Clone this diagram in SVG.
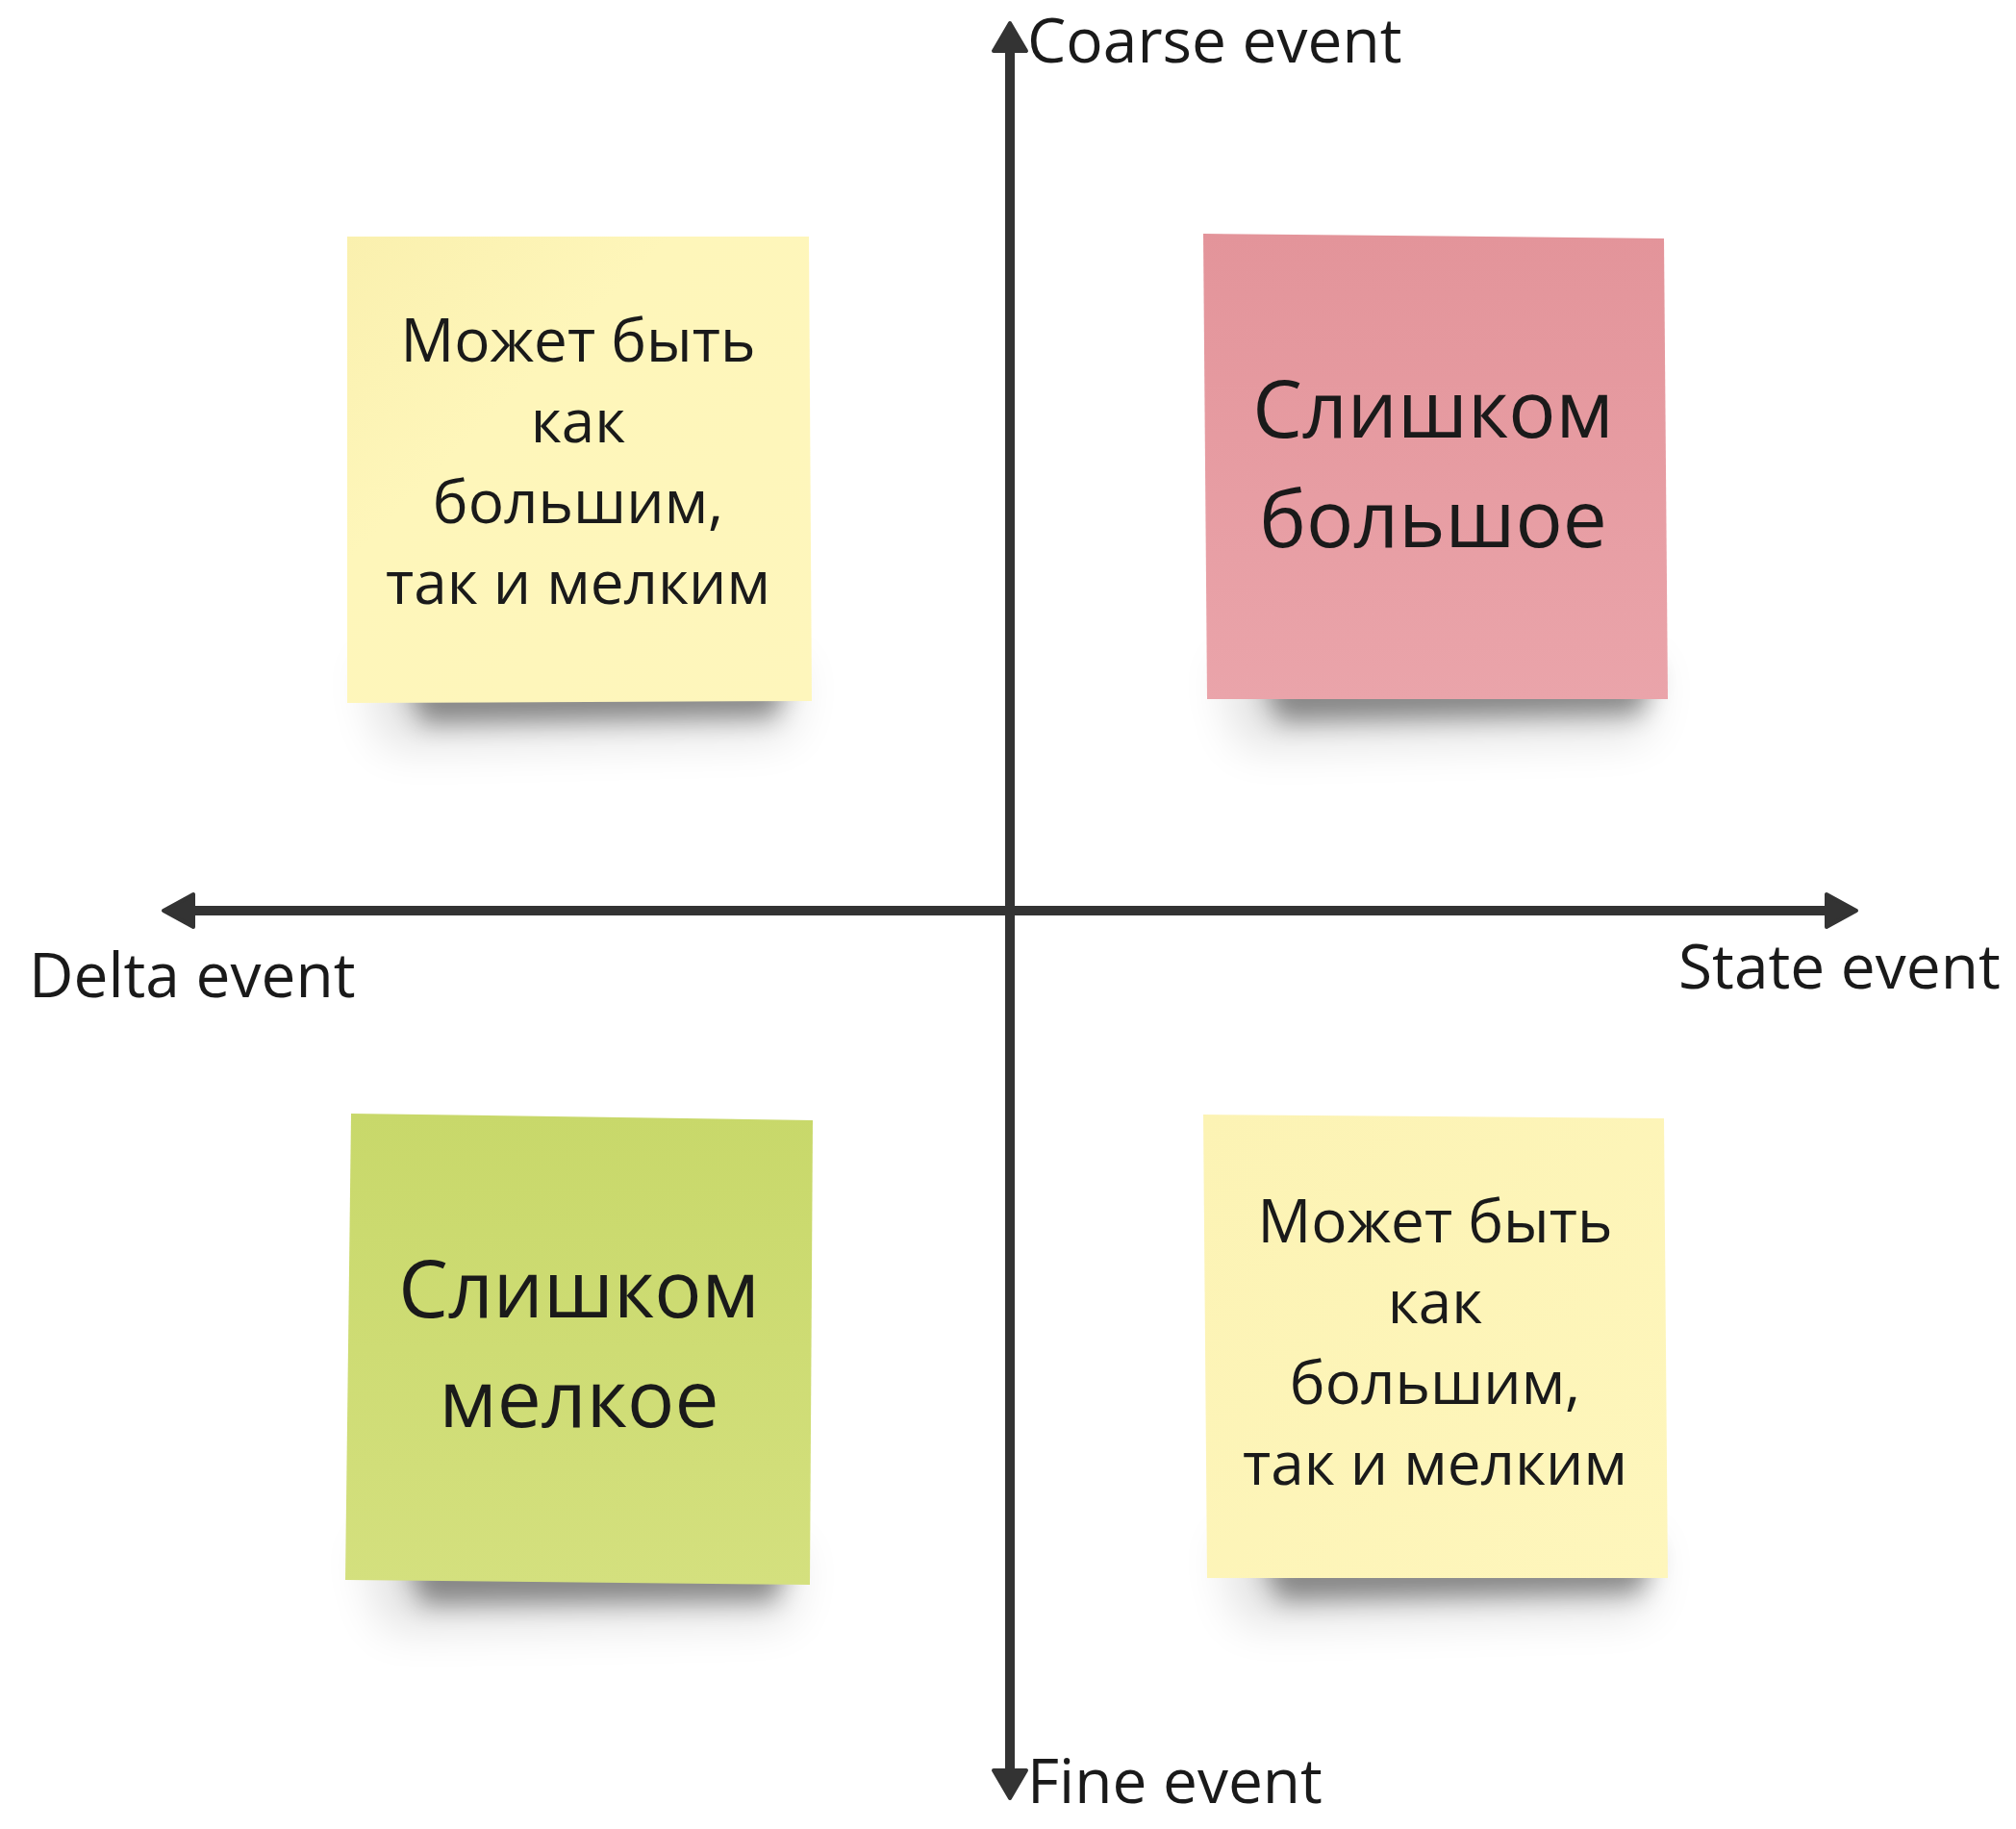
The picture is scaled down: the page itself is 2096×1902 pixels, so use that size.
<svg xmlns="http://www.w3.org/2000/svg" width="2096" height="1902" viewBox="0 0 2096 1902">
  <style>
    .lbl { font-family: "Open Sans", "Noto Sans", "Liberation Sans", sans-serif; font-size: 64px; fill: #1a1a1a; }
    .nt { font-family: "Open Sans", "Noto Sans", "Liberation Sans", sans-serif; font-size: 62px; fill: #1a1a1a; text-anchor: middle; }
    .big { font-family: "Open Sans", "Noto Sans", "Liberation Sans", sans-serif; font-size: 82px; fill: #1a1a1a; text-anchor: middle; }
    .axis { stroke: #333333; stroke-width: 10; fill: none; }
    .head { fill: #333333; stroke: #333333; stroke-width: 4; stroke-linejoin: round; }
    .sh1 { fill: #000000; opacity: 0.4; filter: url(#blurA); }
    .sh2 { fill: #000000; opacity: 0.12; filter: url(#blurB); }
  </style>
  <defs>
    <filter id="blurA" x="-20%" y="-100%" width="140%" height="300%"><feGaussianBlur stdDeviation="13"/></filter>
    <filter id="blurB" x="-20%" y="-100%" width="140%" height="300%"><feGaussianBlur stdDeviation="24"/></filter>
    <linearGradient id="gYellowTL" x1="0" y1="0" x2="1" y2="1">
      <stop offset="0" stop-color="#FAF0AE"/>
      <stop offset="0.35" stop-color="#FEF6BA"/>
      <stop offset="1" stop-color="#FEF6BC"/>
    </linearGradient>
    <linearGradient id="gYellowBR" x1="0" y1="0" x2="1" y2="1">
      <stop offset="0" stop-color="#FCF3B4"/>
      <stop offset="1" stop-color="#FEF6BC"/>
    </linearGradient>
    <linearGradient id="gPink" x1="0" y1="0" x2="0" y2="1">
      <stop offset="0" stop-color="#E3949A"/>
      <stop offset="1" stop-color="#EAA4AA"/>
    </linearGradient>
    <linearGradient id="gGreen" x1="0" y1="0" x2="0" y2="1">
      <stop offset="0" stop-color="#C8D86A"/>
      <stop offset="1" stop-color="#D4E07E"/>
    </linearGradient>
  </defs>
  <rect width="2096" height="1902" fill="#ffffff"/>

  <g id="note-top-left">
    <path class="sh2" d="M380,690 L830,690 L820,765 L400,775 Z"/>
    <path class="sh1" d="M420,700 L820,700 L805,745 L440,752 Z"/>
    <path d="M361,246 L841,246 L844,729 L361,731 Z" fill="url(#gYellowTL)"/>
    <text class="nt" x="601" y="376">Может быть</text>
    <text class="nt" x="601" y="460">как</text>
    <text class="nt" x="601" y="544">большим,</text>
    <text class="nt" x="601" y="628">так и мелким</text>
  </g>

  <g id="note-top-right">
    <path class="sh2" d="M1270,690 L1720,690 L1710,765 L1290,775 Z"/>
    <path class="sh1" d="M1310,698 L1720,698 L1705,742 L1330,750 Z"/>
    <path d="M1251,243 L1730,248 L1734,727 L1255,727 Z" fill="url(#gPink)"/>
    <text class="big" x="1490" y="455">Слишком</text>
    <text class="big" x="1490" y="569">большое</text>
  </g>

  <g id="note-bottom-left">
    <path class="sh2" d="M378,1605 L830,1610 L820,1685 L400,1693 Z"/>
    <path class="sh1" d="M420,1614 L820,1618 L805,1664 L440,1668 Z"/>
    <path d="M365,1158 L845,1165 L842,1648 L359,1643 Z" fill="url(#gGreen)"/>
    <text class="big" x="602" y="1370">Слишком</text>
    <text class="big" x="602" y="1484">мелкое</text>
  </g>

  <g id="note-bottom-right">
    <path class="sh2" d="M1270,1602 L1720,1602 L1710,1677 L1290,1687 Z"/>
    <path class="sh1" d="M1310,1612 L1720,1612 L1705,1656 L1330,1664 Z"/>
    <path d="M1251,1159 L1730,1163 L1734,1641 L1255,1641 Z" fill="url(#gYellowBR)"/>
    <text class="nt" x="1492" y="1292">Может быть</text>
    <text class="nt" x="1492" y="1376">как</text>
    <text class="nt" x="1492" y="1460">большим,</text>
    <text class="nt" x="1492" y="1544">так и мелким</text>
  </g>

  <g id="connectors">
    <line class="axis" x1="1050" y1="50" x2="1050" y2="1845"/>
    <line class="axis" x1="196" y1="947" x2="1905" y2="947"/>
    <path class="head" d="M1050,24 L1067,53 L1033,53 Z"/>
    <path class="head" d="M1050,1870 L1067,1841 L1033,1841 Z"/>
    <path class="head" d="M170,947 L201,930 L201,964 Z"/>
    <path class="head" d="M1930,947 L1899,930 L1899,964 Z"/>
  </g>

  <g id="axis-labels">
    <text class="lbl" x="1068" y="65">Coarse event</text>
    <text class="lbl" x="1068" y="1875">Fine event</text>
    <text class="lbl" x="30" y="1037">Delta event</text>
    <text class="lbl" x="1745" y="1028">State event</text>
  </g>
</svg>
